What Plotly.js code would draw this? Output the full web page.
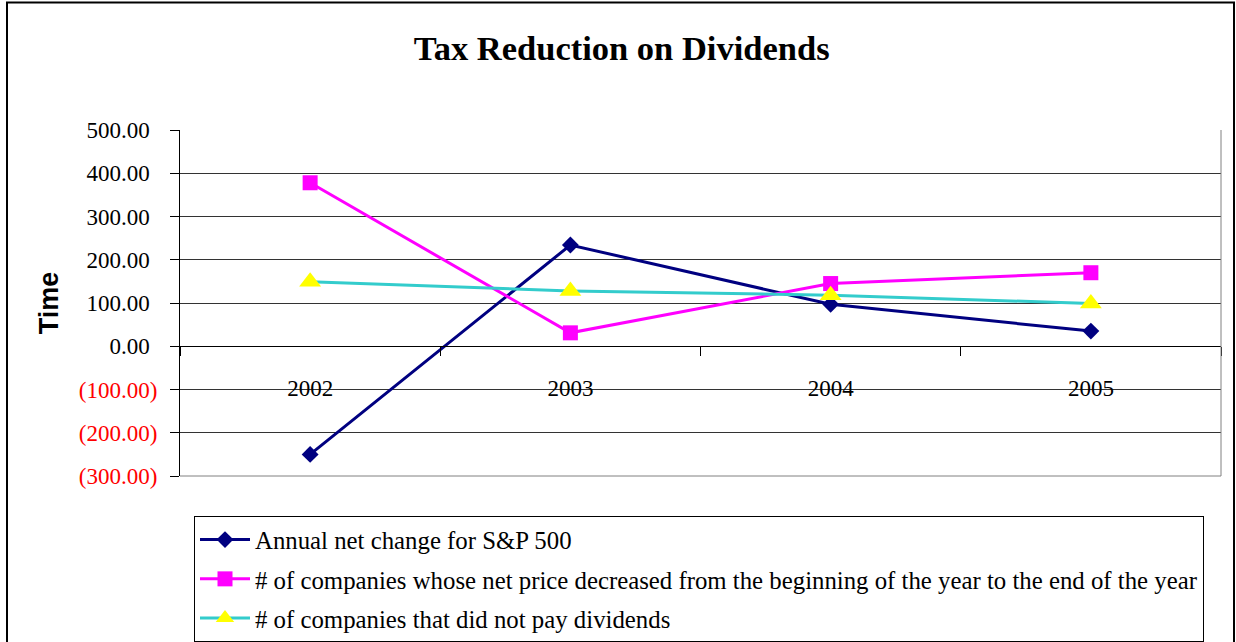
<!DOCTYPE html>
<html>
<head>
<meta charset="utf-8">
<script src="https://cdn.plot.ly/plotly-3.0.1.min.js"></script>
<style>
  html, body { margin: 0; padding: 0; background: #fff; }
  #chart { width: 1236px; height: 642px; }
</style>
</head>
<body>
<div id="chart"></div>
<script>
// ---- data ----
const categories = ['2002', '2003', '2004', '2005'];
const sp500Change = [-250, 234, 97, 35];
const netPriceDecreased = [378, 31, 145, 170];
const noDividends = [149, 128, 118, 99];
const seriesNames = [
  'Annual net change for S&P 500',
  '# of companies whose net price decreased from the beginning of the year to the end of the year',
  '# of companies that did not pay dividends'
];
const yTickVals = [-300, -200, -100, 0, 100, 200, 300, 400, 500];

function fmtTick(v) {
  const s = Math.abs(v).toFixed(2);
  if (v < 0) return '<span style="color:#ff0000">(' + s + ')</span>';
  return s + '<span style="color:rgba(0,0,0,0)">)</span>';
}
const yTickText = yTickVals.map(fmtTick);

const W = 1236, H = 642;
const mL = 180, mR = 15, mT = 130, mB = 166;
const pw = W - mL - mR, ph = H - mT - mB;
const px = x => (x - mL) / pw;
const py = y => (H - mB - y) / ph;

const serif = 'Liberation Serif, Times New Roman, serif';

const traces = [
  {
    x: categories, y: sp500Change, name: seriesNames[0], type: 'scatter', mode: 'lines+markers',
    line: { color: '#000080', width: 3 },
    marker: { symbol: 'diamond', size: 13, color: '#000080' },
    legendgroup: 'a'
  },
  {
    x: categories, y: netPriceDecreased, name: seriesNames[1], type: 'scatter', mode: 'lines+markers',
    line: { color: '#ff00ff', width: 3 },
    marker: { symbol: 'square', size: 15, color: '#ff00ff' },
    legendgroup: 'b'
  },
  {
    x: categories, y: noDividends, name: seriesNames[2], type: 'scatter', mode: 'lines+markers',
    line: { color: '#33cccc', width: 3 },
    marker: { symbol: 'triangle-up', size: 19, color: '#ffff00' },
    legendgroup: 'c'
  }
];

const layout = {
  width: W, height: H,
  margin: { l: mL, r: mR, t: mT, b: mB, pad: 0, autoexpand: false },
  paper_bgcolor: '#ffffff',
  plot_bgcolor: '#ffffff',
  showlegend: true,
  title: {
    text: '<b>Tax Reduction on Dividends</b>',
    font: { family: serif, size: 34.5, color: '#000' },
    x: 0.503, xanchor: 'center', y: 1 - 48 / H, yanchor: 'middle'
  },
  xaxis: {
    type: 'category',
    range: [-0.5, 3.5],
    anchor: 'free',
    position: 0.375,
    showgrid: false,
    zeroline: false,
    showline: true, linecolor: '#000', linewidth: 1,
    ticks: 'outside', tickson: 'boundaries', ticklen: 9, tickcolor: '#000', tickwidth: 1,
    ticklabelstandoff: 21,
    tickfont: { family: serif, size: 23, color: '#000' },
    automargin: false,
    fixedrange: true
  },
  yaxis: {
    range: [-300, 500],
    tickvals: yTickVals, ticktext: yTickText,
    showgrid: true, gridcolor: '#333', gridwidth: 1,
    zeroline: false,
    showline: true, linecolor: '#000', linewidth: 1, mirror: false,
    ticks: 'outside', ticklen: 9, tickcolor: '#000',
    ticklabelstandoff: 8,
    tickfont: { family: serif, size: 23, color: '#000' },
    title: {
      text: '<b>Time</b>',
      font: { family: 'Liberation Sans, Arial, sans-serif', size: 27, color: '#000' },
      standoff: 12
    },
    automargin: false,
    fixedrange: true
  },
  legend: {
    x: px(194), y: py(516), xanchor: 'left', yanchor: 'top',
    bgcolor: '#fff', bordercolor: '#000', borderwidth: 1,
    font: { family: serif, size: 24.8, color: '#000' },
    itemwidth: 50,
    tracegroupgap: 4,
    traceorder: 'grouped'
  },
  shapes: [
    { type: 'line', xref: 'paper', yref: 'paper', x0: 1, x1: 1, y0: 0, y1: 1,
      line: { color: '#808080', width: 1 } },
    { type: 'line', xref: 'paper', yref: 'paper', x0: 0, x1: 1, y0: 0, y1: 0,
      line: { color: '#808080', width: 1 } },
    { type: 'rect', xref: 'paper', yref: 'paper', x0: px(7), x1: px(1234), y0: py(660), y1: py(2.5),
      line: { color: '#000', width: 2 }, layer: 'below' }
  ]
};

Plotly.newPlot('chart', traces, layout, { displayModeBar: false, staticPlot: true });
</script>
</body>
</html>
